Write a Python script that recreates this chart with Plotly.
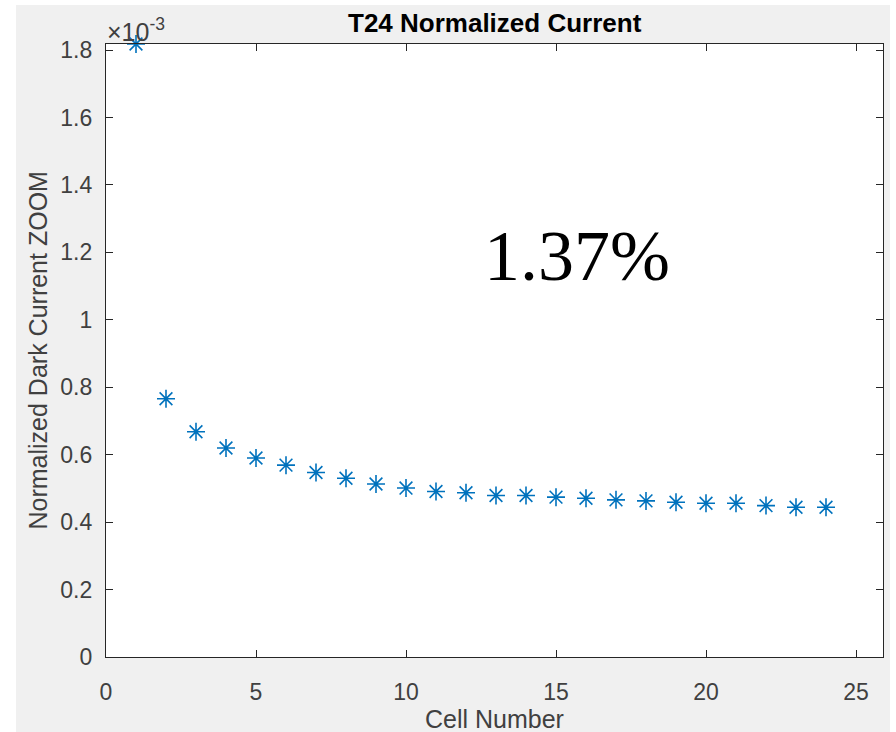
import plotly.graph_objects as go

# Normalized dark current per cell (values in units of 1e-3)
cell_number = list(range(1, 25))
dark_current = [1.818, 0.766, 0.668, 0.620, 0.590, 0.569, 0.547, 0.530,
                0.513, 0.501, 0.491, 0.487, 0.479, 0.479, 0.474, 0.471,
                0.466, 0.463, 0.459, 0.456, 0.456, 0.449, 0.444, 0.444]

x_ticks = [0, 5, 10, 15, 20, 25]
y_ticks = [0, 0.2, 0.4, 0.6, 0.8, 1.0, 1.2, 1.4, 1.6, 1.8]
y_tick_labels = ["0", "0.2", "0.4", "0.6", "0.8", "1", "1.2", "1.4", "1.6", "1.8"]

spread_label = "1.37%"

W, H = 896, 732
L, R, T, B = 106, 883, 44, 657

def px_x(p):
    return (p - L) / (R - L)

def px_y(p):
    return (B - p) / (B - T)

sans = "Liberation Sans, Arial, Helvetica, sans-serif"
axis_col = "#262626"
tick_col = "#404040"

fig = go.Figure()
fig.add_trace(go.Scatter(
    x=cell_number, y=dark_current, mode="markers",
    marker=dict(symbol="asterisk-open", size=15, color="#0072BD",
                line=dict(color="#0072BD", width=1.6)),
    cliponaxis=False, showlegend=False,
))

axis_common = dict(
    showgrid=False, zeroline=False, showline=True, linecolor=axis_col,
    linewidth=1.2, mirror="ticks", ticks="inside", ticklen=7,
    tickcolor=axis_col, tickwidth=1.2,
    tickfont=dict(family=sans, size=23, color=tick_col),
)

# thin white margins around the grey figure window
white_strips = [
    dict(x0=px_x(0), x1=px_x(16), y0=px_y(732), y1=px_y(0)),
    dict(x0=px_x(0), x1=px_x(896), y0=px_y(5), y1=px_y(0)),
    dict(x0=px_x(890), x1=px_x(896), y0=px_y(732), y1=px_y(0)),
]
shapes = [dict(type="rect", xref="paper", yref="paper", layer="below",
               fillcolor="white", line=dict(width=0), **s) for s in white_strips]

fig.update_layout(
    width=W, height=H,
    margin=dict(l=L, r=W - R, t=T, b=H - B, pad=0),
    paper_bgcolor="#F0F0F0", plot_bgcolor="white",
    xaxis=dict(range=[0, 25.9], tickvals=x_ticks, ticklabelstandoff=14,
               **axis_common),
    yaxis=dict(range=[0, 1.818], tickvals=y_ticks, ticktext=y_tick_labels,
               ticklabelstandoff=8, **axis_common),
    shapes=shapes,
    annotations=[
        dict(text="<b>T24 Normalized Current</b>", xref="paper", yref="paper",
             x=0.5, y=px_y(23), xanchor="center", yanchor="middle",
             showarrow=False, font=dict(family=sans, size=26, color="#000000")),
        dict(text="Cell Number", xref="paper", yref="paper",
             x=0.5, y=px_y(719), xanchor="center", yanchor="middle",
             showarrow=False, font=dict(family=sans, size=25, color=tick_col)),
        dict(text="Normalized Dark Current ZOOM", xref="paper", yref="paper",
             x=px_x(37), y=0.5, xanchor="center", yanchor="middle",
             textangle=-90, showarrow=False,
             font=dict(family=sans, size=25, color=tick_col)),
        dict(text="×10<sup>-3</sup>", xref="paper", yref="paper",
             x=px_x(105), y=px_y(30), xanchor="left", yanchor="middle",
             showarrow=False, font=dict(family=sans, size=25, color=tick_col)),
        dict(text=spread_label, xref="x", yref="y", x=15.7, y=1.19,
             xanchor="center", yanchor="middle", showarrow=False,
             font=dict(family="Liberation Serif, Times New Roman, serif",
                       size=72, color="#000000")),
    ],
)

fig.write_html("out.html")
